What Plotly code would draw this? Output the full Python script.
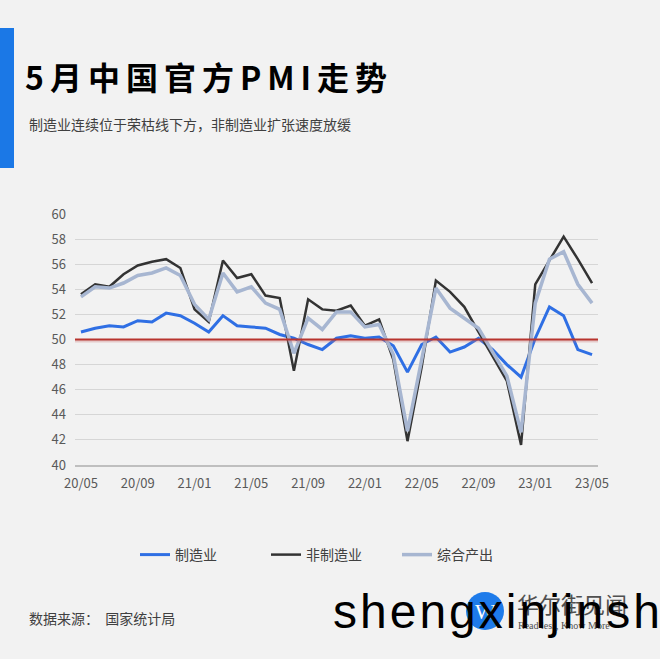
import plotly.graph_objects as go

months = ["20/05", "20/06", "20/07", "20/08", "20/09", "20/10", "20/11", "20/12",
          "21/01", "21/02", "21/03", "21/04", "21/05", "21/06", "21/07", "21/08",
          "21/09", "21/10", "21/11", "21/12", "22/01", "22/02", "22/03", "22/04",
          "22/05", "22/06", "22/07", "22/08", "22/09", "22/10", "22/11", "22/12",
          "23/01", "23/02", "23/03", "23/04", "23/05"]

manufacturing = [50.6, 50.9, 51.1, 51.0, 51.5, 51.4, 52.1, 51.9,
                 51.3, 50.6, 51.9, 51.1, 51.0, 50.9, 50.4, 50.1,
                 49.6, 49.2, 50.1, 50.3, 50.1, 50.2, 49.5, 47.4,
                 49.6, 50.2, 49.0, 49.4, 50.1, 49.2, 48.0, 47.0,
                 50.1, 52.6, 51.9, 49.2, 48.8]

non_manufacturing = [53.6, 54.4, 54.2, 55.2, 55.9, 56.2, 56.4, 55.7,
                     52.4, 51.4, 56.3, 54.9, 55.2, 53.5, 53.3, 47.5,
                     53.2, 52.4, 52.3, 52.7, 51.1, 51.6, 48.4, 41.9,
                     47.8, 54.7, 53.8, 52.6, 50.6, 48.7, 46.7, 41.6,
                     54.4, 56.3, 58.2, 56.4, 54.5]

composite = [53.4, 54.2, 54.1, 54.5, 55.1, 55.3, 55.7, 55.1,
             52.8, 51.6, 55.3, 53.8, 54.2, 52.9, 52.4, 48.9,
             51.7, 50.8, 52.2, 52.2, 51.0, 51.2, 48.8, 42.7,
             48.4, 54.1, 52.5, 51.7, 50.9, 49.0, 47.1, 42.6,
             52.9, 56.4, 57.0, 54.4, 52.9]

series_names = ["制造业", "非制造业", "综合产出"]
x_tick_labels = ["20/05", "20/09", "21/01", "21/05", "21/09", "22/01",
                 "22/05", "22/09", "23/01", "23/05"]
y_tick_values = [40, 42, 44, 46, 48, 50, 52, 54, 56, 58, 60]
threshold = 50

title_text = "5月中国官方PMI走势"
subtitle_text = "制造业连续位于荣枯线下方，非制造业扩张速度放缓"
source_text = "数据来源：  国家统计局"
watermark_text = "shengxinjinshu"
logo_cn = "华尔街见闻"
logo_en = "Read less, Know More"

# layout geometry (pixels)
W, H = 660, 659
L, R, T, B = 75, 62, 214, 194
PW, PH = W - L - R, H - T - B


def px(x):
    return (x - L) / PW


def py(y):
    return (H - B - y) / PH


def spaced(text, ls):
    return '<span style="letter-spacing:%dpx">%s</span>' % (ls, text)


CJK = "Noto Sans CJK SC"
fig = go.Figure()

fig.add_trace(go.Scatter(x=months, y=manufacturing, name=series_names[0], mode="lines",
                         line=dict(color="#2F6FE4", width=3)))
fig.add_trace(go.Scatter(x=months, y=non_manufacturing, name=series_names[1], mode="lines",
                         line=dict(color="#333333", width=2.5)))
fig.add_trace(go.Scatter(x=months, y=composite, name=series_names[2], mode="lines",
                         line=dict(color="#A7B6D1", width=3.5)))

shapes = [
    # threshold shadow + line
    dict(type="line", xref="paper", yref="y", x0=0, x1=1, y0=threshold - 0.12, y1=threshold - 0.12,
         line=dict(color="rgba(200,110,110,0.3)", width=3)),
    dict(type="line", xref="paper", yref="y", x0=0, x1=1, y0=threshold, y1=threshold,
         line=dict(color="#B8342E", width=2)),
    # left blue bar
    dict(type="rect", xref="paper", yref="paper", x0=px(0), x1=px(14), y0=py(168), y1=py(28),
         fillcolor="#1B78E6", line=dict(width=0), layer="above"),
    # logo circle
    dict(type="circle", xref="paper", yref="paper", x0=px(466), x1=px(504), y0=py(630), y1=py(592),
         fillcolor="#1E7BEA", line=dict(width=0)),
]

annotations = [
    dict(text=spaced(title_text, 6), x=px(23), y=py(76), xref="paper", yref="paper",
         xanchor="left", yanchor="middle", showarrow=False,
         font=dict(family=CJK, size=32, color="#000000", weight="bold")),
    dict(text=subtitle_text, x=px(27), y=py(124), xref="paper", yref="paper", xanchor="left",
         yanchor="middle", showarrow=False, font=dict(family=CJK, size=14, color="#404040")),
    dict(text=source_text, x=px(27), y=py(618), xref="paper", yref="paper", xanchor="left",
         yanchor="middle", showarrow=False, font=dict(family=CJK, size=14, color="#404040")),
    dict(text="W", x=px(485), y=py(611), xref="paper", yref="paper", xanchor="center",
         yanchor="middle", showarrow=False,
         font=dict(family="Liberation Serif", size=22, color="#FFFFFF")),
    dict(text=logo_cn, x=px(515), y=py(603), xref="paper", yref="paper", xanchor="left",
         yanchor="middle", showarrow=False, font=dict(family=CJK, size=22, color="#505050")),
    dict(text=logo_en, x=px(516), y=py(625), xref="paper", yref="paper", xanchor="left",
         yanchor="middle", showarrow=False,
         font=dict(family="Liberation Serif", size=10, color="#505050")),
    dict(text=spaced(watermark_text, 3), x=px(331), y=py(611), xref="paper", yref="paper",
         xanchor="left", yanchor="middle", showarrow=False,
         font=dict(family="Liberation Sans", size=48, color="#000000")),
]

fig.update_layout(
    width=W, height=H,
    margin=dict(l=L, r=R, t=T, b=B, pad=0),
    paper_bgcolor="#F2F2F2", plot_bgcolor="#F2F2F2",
    font=dict(family=CJK, color="#595959"),
    showlegend=True,
    legend=dict(orientation="h", x=px(135), y=py(555), xanchor="left", yanchor="middle",
                entrywidth=86, entrywidthmode="pixels",
                font=dict(family=CJK, size=14, color="#404040"), bgcolor="rgba(0,0,0,0)"),
    shapes=shapes,
    annotations=annotations,
    xaxis=dict(type="category", range=[-0.42, len(months) - 1 + 0.42],
               tickmode="array", tickvals=x_tick_labels, ticktext=x_tick_labels,
               showgrid=False, showline=True, linecolor="#BFBFBF", linewidth=1.5,
               ticks="", ticklabelstandoff=6,
               tickfont=dict(family=CJK, size=13, color="#595959"), fixedrange=True),
    yaxis=dict(range=[40, 60], tickmode="array", tickvals=y_tick_values,
               showgrid=True, gridcolor="#D6D6D6", gridwidth=1, zeroline=False,
               showline=False, ticks="", ticklabelstandoff=8,
               tickfont=dict(family=CJK, size=13, color="#595959"), fixedrange=True),
)

fig.write_html(
    "out.html",
    config={"displayModeBar": False},
    post_script="document.body.style.margin='0';document.body.style.background='#F2F2F2';"
                "document.body.style.overflow='hidden';",
)
